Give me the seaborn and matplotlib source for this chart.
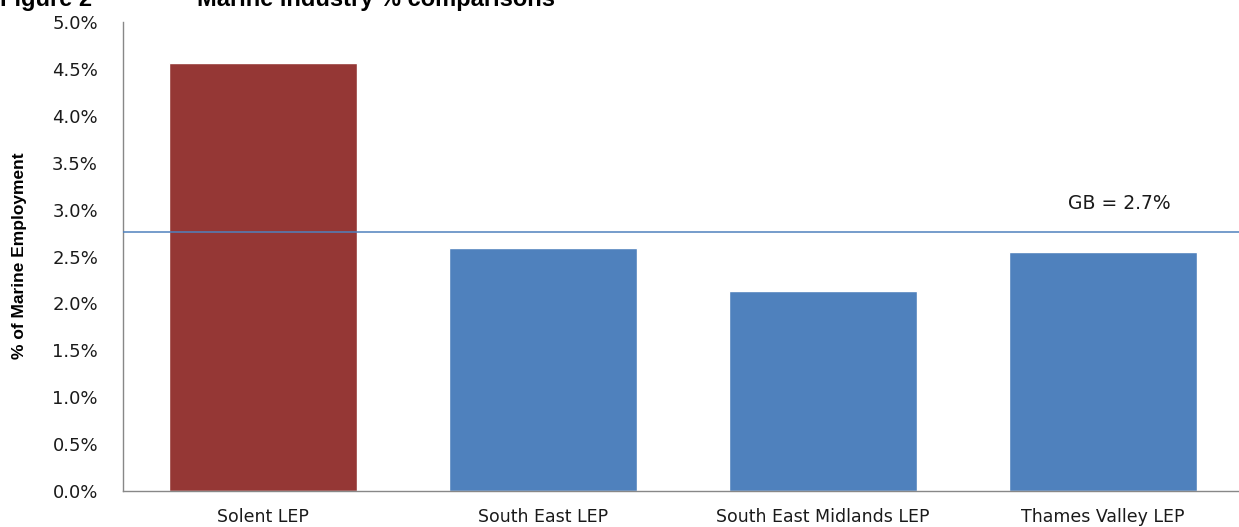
import matplotlib
matplotlib.use("Agg")
import matplotlib.pyplot as plt
from matplotlib.ticker import PercentFormatter
import seaborn as sns
import pandas as pd

# Data
regions = ["Solent LEP", "South East LEP", "South East Midlands LEP", "Thames Valley LEP"]
share = [4.56, 2.59, 2.13, 2.55]
bar_colors = ["#953735", "#4F81BD", "#4F81BD", "#4F81BD"]
gb_value = 2.76
gb_label = "GB = 2.7%"
y_ticks = [0.0, 0.5, 1.0, 1.5, 2.0, 2.5, 3.0, 3.5, 4.0, 4.5, 5.0]

df = pd.DataFrame({"region": regions, "share": share})

sns.set_style("white")
plt.rcParams['font.family'] = ['DejaVu Sans']
plt.rcParams['text.color'] = '#111111'

W, H = 1239, 527
fig = plt.figure(figsize=(W / 100, H / 100), dpi=100)
ax = fig.add_axes([123 / W, 36 / H, 1120 / W, 469 / H])

sns.barplot(data=df, x="region", y="share", hue="region", palette=bar_colors,
            width=0.67, saturation=1, legend=False, ax=ax)

ax.axhline(gb_value, color="#4F81BD", lw=1.1, zorder=3)
ax.text(3.06, 3.06, gb_label, ha="center", va="center", fontsize=13.5, color="#1a1a1a")

ax.set_xlim(-0.5, 3.5)
ax.set_ylim(0, 5.0)
ax.set_yticks(y_ticks)
ax.yaxis.set_major_formatter(PercentFormatter(decimals=1))
ax.set_xticks([0, 1, 2, 3])
ax.set_xticklabels(regions)
ax.set_xticks([-0.5, 0.5, 1.5, 2.5], minor=True)
ax.tick_params(axis="x", which="major", length=0, pad=12, labelsize=12.5, labelcolor="#1a1a1a")
ax.tick_params(axis="x", which="minor", length=6, width=1, color="#888888", direction="out")
ax.tick_params(axis="y", length=5, width=1, color="#888888", direction="out", pad=13,
               labelsize=13, labelcolor="#1a1a1a")

for s in ["top", "right"]:
    ax.spines[s].set_visible(False)
for s in ["left", "bottom"]:
    ax.spines[s].set_color("#888888")
    ax.spines[s].set_linewidth(1)

ax.set_xlabel("")
ax.set_ylabel("")
fig.text(20 / W, 1 - 256 / H, "% of Marine Employment", rotation=90, ha="center", va="center",
         fontsize=12.5, fontweight="bold", fontstretch="condensed", color="black",
         family=['Liberation Sans Narrow', 'Liberation Sans', 'DejaVu Sans'])

# Caption at the top, mostly cut off by the frame edge as in the source
fig.text(0, 1 - 6 / H, "Figure 2", ha="left", va="baseline", fontsize=17, fontweight="bold",
         color="black", family=['Liberation Sans', 'DejaVu Sans'])
fig.text(197 / W, 1 - 6 / H, "Marine industry % comparisons", ha="left", va="baseline",
         fontsize=17, fontweight="bold", color="black", family=['Liberation Sans', 'DejaVu Sans'])

fig.savefig("out.png", dpi=100)
